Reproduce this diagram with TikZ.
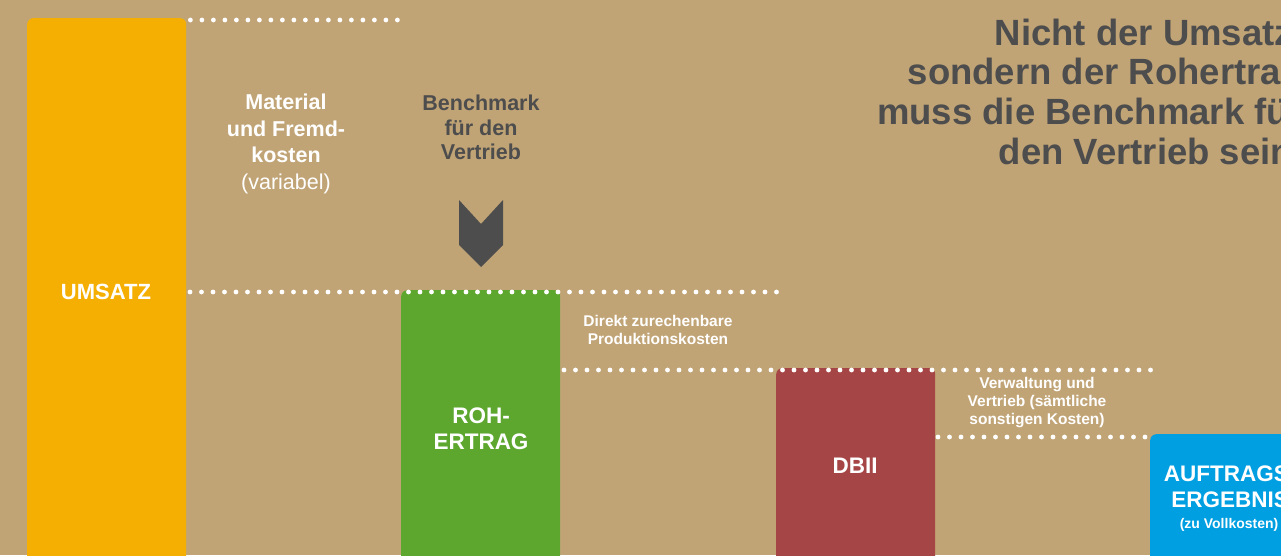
\documentclass[tikz,border=0pt]{standalone}
\usepackage{fontspec}
\setmainfont{Liberation Sans}
\definecolor{bg}{RGB}{193,164,118}
\definecolor{umsatzc}{RGB}{245,175,2}
\definecolor{rohc}{RGB}{93,167,47}
\definecolor{dbc}{RGB}{166,69,69}
\definecolor{aufc}{RGB}{0,159,226}
\definecolor{darktxt}{RGB}{77,77,77}
\begin{document}
\begin{tikzpicture}[x=1pt,y=-1pt,
  bar/.style={anchor=north west, inner sep=0pt, minimum width=159pt, rounded corners=6pt, text=white},
  dots/.style={white, line width=4.8pt, line cap=round, dash pattern=on 0pt off 11.5pt},
  bigw/.style={text=white, font=\fontsize{22}{26}\selectfont\bfseries, align=center, inner sep=0pt},
  smallw/.style={text=white, font=\fontsize{15.5}{18.3}\selectfont\bfseries, align=center, inner sep=0pt},
  greyt/.style={text=darktxt, align=center, inner sep=0pt}]
\useasboundingbox (0,0) rectangle (1281,555);
\clip (0,0) rectangle (1281,555);
\fill[bg] (0,0) rectangle (1281,555);
% bars
\node[bar, fill=umsatzc, minimum height=560pt] (umsatz) at (27,18) {};
\node[bar, fill=rohc, minimum height=290pt] (roh) at (401,290) {};
\node[bar, fill=dbc, minimum height=210pt] (db) at (776,368) {};
\node[bar, fill=aufc, minimum height=140pt] (auf) at (1150,434) {};
% dotted guide lines
\coordinate (e1) at (400,20);
\coordinate (e2) at (777,292);
\coordinate (s3) at (564,370);
\coordinate (e3) at (1152,370);
\coordinate (s4) at (938,437);
\coordinate (e4) at (1150,437);
\draw[dots] ([xshift=4pt,yshift=-2pt]umsatz.north east) -- (e1);
\draw[dots] (190,292) -- (e2);
\draw[dots] (s3) -- (e3);
\draw[dots] (s4) -- (e4);
% bar labels
\node[bigw] (tumsatz) at (106,292) {UMSATZ};
\node[bigw, font=\fontsize{22.5}{26}\selectfont\bfseries] (troh) at (481,429) {ROH-\\ERTRAG};
\node[bigw, font=\fontsize{22.5}{26}\selectfont\bfseries] (tdb) at (855,466) {DBII};
\node[bigw, font=\fontsize{22.5}{26}\selectfont\bfseries] (tauf) at (1230,487) {AUFTRAGS-\\ERGEBNIS};
\node[smallw, font=\fontsize{14}{16}\selectfont\bfseries] (tvoll) at (1229,525) {(zu Vollkosten)};
% cost labels
\node[bigw, font=\fontsize{21.5}{26.5}\selectfont\bfseries] (tmat) at (286,144) {Material\\und Fremd-\\kosten\\{\normalfont\fontsize{21.5}{26.5}\selectfont (variabel)}};
\node[smallw] (tdirekt) at (658,330) {Direkt zurechenbare\\Produktionskosten};
\node[smallw] (tverw) at (1037,402.5) {Verwaltung und\\Vertrieb (sämtliche\\sonstigen Kosten)};
% benchmark
\node[greyt, font=\fontsize{21.5}{24.5}\selectfont\bfseries] (tbench) at (481,127.5) {Benchmark\\für den\\Vertrieb};
\fill[darktxt] (459,200) -- (481,224) -- (503,200) -- (503,245) -- (481,267) -- (459,245) -- cycle;
% title
\node[greyt, align=right, anchor=west, font=\fontsize{36.5}{39.7}\selectfont\bfseries] (title) at (877,91.5) {Nicht der Umsatz,\\sondern der Rohertrag\\muss die Benchmark für\\den Vertrieb sein.};
\end{tikzpicture}
\end{document}
